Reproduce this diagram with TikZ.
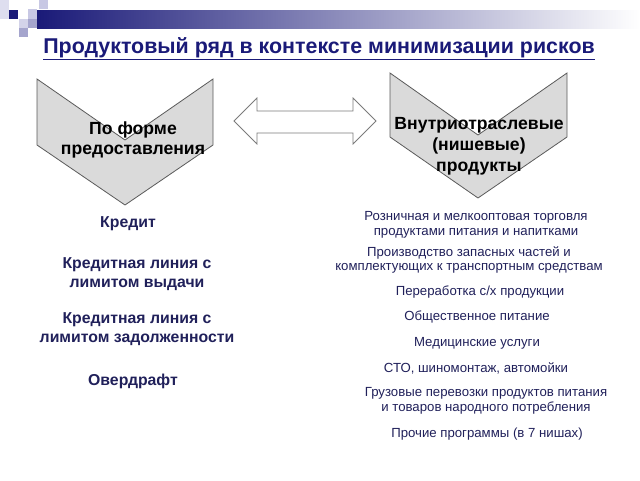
\documentclass[tikz,border=0pt]{standalone}
\usepackage{fontspec}
\setmainfont{Liberation Sans}
\definecolor{navy}{RGB}{26,26,120}
\definecolor{textnavy}{RGB}{32,32,90}
\definecolor{chevfill}{RGB}{218,218,218}
\definecolor{chevline}{RGB}{90,90,90}
\definecolor{lav}{RGB}{200,200,228}
\definecolor{lavmid}{RGB}{165,165,205}
\begin{document}
\begin{tikzpicture}[x=1pt,y=-1pt,
  chev/.style={draw=chevline,fill=chevfill,line width=0.8pt,line join=miter},
  dblarrow/.style={draw=chevline!80,fill=white,line width=0.8pt},
  chevtext/.style={font=\fontsize{17.6}{20.8}\selectfont\bfseries,align=center,text=black},
  leftitem/.style={font=\fontsize{15.8}{19}\selectfont\bfseries,align=center,text=textnavy},
  rightitem/.style={font=\fontsize{13.2}{14.5}\selectfont,align=center,text=textnavy}]
\useasboundingbox (0,0) rectangle (640,480);
% decoration squares
\fill[lav!60] (0,0) rectangle (9,19);
\fill[lav] (39,0) rectangle (48,9);
\shade[left color=navy, right color=white] (37,10) rectangle (640,28);
\fill[navy] (9,10) rectangle (18,19);
\fill[lav] (28,9) rectangle (37,19);
\fill[lav!80] (19,19) rectangle (28,28);
\fill[lavmid] (28,19) rectangle (37,28);
\fill[lavmid] (19,28) rectangle (28,37);
% title
\node[font=\fontsize{21.4}{25}\selectfont\bfseries,text=navy] (title) at (319,49) {\underline{Продуктовый ряд в контексте минимизации рисков}};
% chevrons
\draw[chev] (37,79) -- (125,140) -- (213,79) -- (213,145) -- (125,205) -- (37,145) -- cycle;
\draw[chev] (390,73) -- (478,135) -- (567,73) -- (567,137) -- (478,198) -- (390,137) -- cycle;
\node[chevtext] (lefthead) at (133,140) {По форме\\предоставления};
\node[chevtext] (righthead) at (479,146) {Внутриотраслевые\\(нишевые)\\продукты};
% double arrow
\draw[dblarrow] (234,121) -- (257,98) -- (257,111) -- (353,111) -- (353,98) -- (376,121) -- (353,144) -- (353,133) -- (257,133) -- (257,144) -- cycle;
% left list
\node[leftitem] (l1) at (128,224) {Кредит};
\node[leftitem] (l2) at (137,274) {Кредитная линия с\\лимитом выдачи};
\node[leftitem] (l3) at (137,329) {Кредитная линия с\\лимитом задолженности};
\node[leftitem] (l4) at (133,381) {Овердрафт};
% right list
\node[rightitem] (r1) at (476,225) {Розничная и мелкооптовая торговля\\продуктами питания и напитками};
\node[rightitem] (r2) at (469,260) {Производство запасных частей и\\комплектующих к транспортным средствам};
\node[rightitem] (r3) at (480,292) {Переработка с/х продукции};
\node[rightitem] (r4) at (477,317) {Общественное питание};
\node[rightitem] (r5) at (477,343) {Медицинские услуги};
\node[rightitem] (r6) at (476,368) {СТО, шиномонтаж, автомойки};
\node[rightitem] (r7) at (486,401) {Грузовые перевозки продуктов питания\\и товаров народного потребления};
\node[rightitem] (r8) at (487,434) {Прочие программы (в 7 нишах)};
\end{tikzpicture}
\end{document}
